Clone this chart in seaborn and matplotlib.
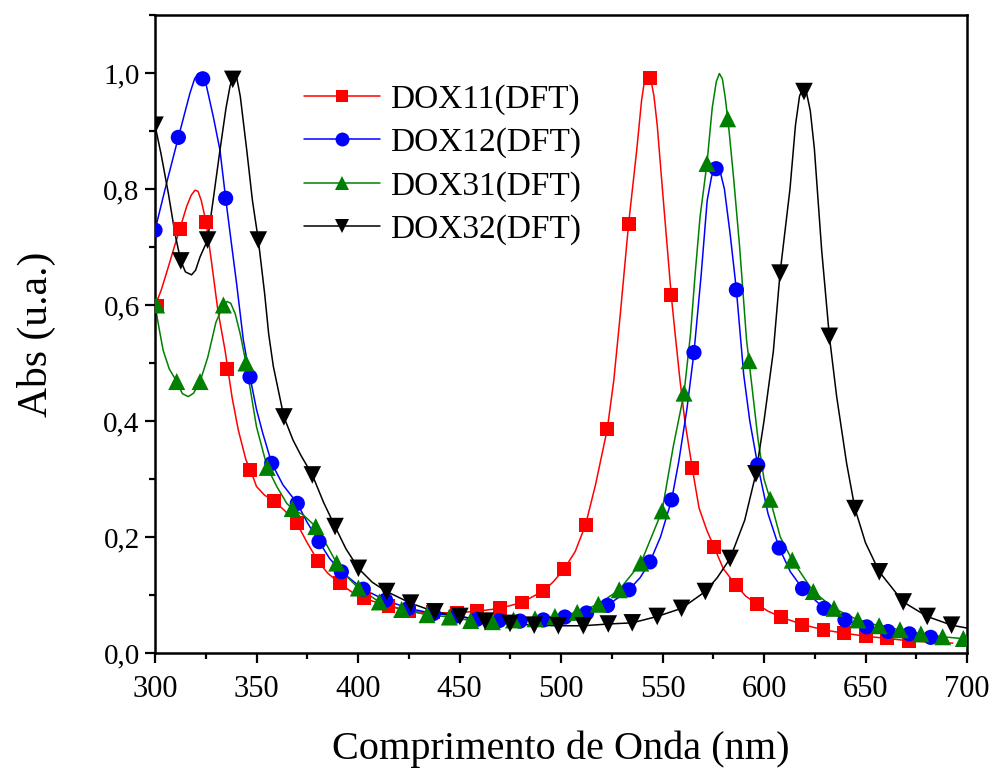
import matplotlib
matplotlib.use("Agg")
import matplotlib.pyplot as plt
from matplotlib.lines import Line2D
from matplotlib.ticker import MultipleLocator, FuncFormatter
import seaborn as sns
import pandas as pd

# ---------------- data ----------------
series_names = ["DOX11(DFT)", "DOX12(DFT)", "DOX31(DFT)", "DOX32(DFT)"]
series_colors = ["#FF0000", "#0000FF", "#008000", "#000000"]
series_markers = ["s", "o", "^", "v"]

# marker points
dox11_x = [301, 312.3, 325, 335.5, 347, 358.8, 369.8, 380.4, 391, 403, 415, 425.3, 437,
           448.6, 458.8, 470, 480.6, 491.3, 501.6, 512.1, 522.8, 533.3, 543.8, 554.3,
           564.6, 575.5, 586, 596.7, 608.4, 618.9, 629.3, 639.6, 650.1, 660.8, 671.4]
dox11_y = [0.598, 0.731, 0.743, 0.49, 0.316, 0.262, 0.224, 0.158, 0.12, 0.094, 0.081,
           0.072, 0.070, 0.0695, 0.072, 0.077, 0.087, 0.107, 0.145, 0.221, 0.386, 0.740,
           0.991, 0.617, 0.319, 0.182, 0.118, 0.084, 0.062, 0.049, 0.040, 0.034, 0.029,
           0.025, 0.021]

dox12_x = [300, 311.5, 323.5, 334.8, 346.8, 357.5, 370.1, 380.8, 391.8, 402.6, 413.6,
           424.8, 437.1, 448.6, 458.5, 469.6, 479.8, 491.3, 501.9, 512.6, 522.9, 533.5,
           543.8, 554.5, 565.5, 576.4, 586.4, 596.9, 607.5, 619, 629.6, 639.9, 650.6,
           661.1, 671.6, 682.1]
dox12_y = [0.729, 0.889, 0.99, 0.784, 0.476, 0.327, 0.258, 0.192, 0.140, 0.110, 0.091,
           0.077, 0.068, 0.064, 0.058, 0.056, 0.055, 0.057, 0.062, 0.069, 0.082, 0.109,
           0.157, 0.264, 0.518, 0.835, 0.626, 0.324, 0.181, 0.111, 0.077, 0.057, 0.045,
           0.037, 0.033, 0.027]

dox31_x = [300.8, 310.7, 322.2, 333.7, 344.8, 355.3, 367.6, 379.2, 389.5, 400.2, 410.5,
           421.5, 434, 445, 455.5, 466.2, 476.6, 487.2, 497, 508, 518.4, 528.7, 539.3,
           549.8, 560.6, 571.9, 582.1, 592.6, 603, 613.9, 624.3, 634.5, 646.2, 656.7,
           667, 677.3, 688, 698.2]
dox31_y = [0.60, 0.468, 0.468, 0.60, 0.50, 0.320, 0.249, 0.218, 0.155, 0.112, 0.088,
           0.075, 0.066, 0.062, 0.056, 0.054, 0.057, 0.059, 0.063, 0.070, 0.084, 0.109,
           0.155, 0.245, 0.448, 0.844, 0.921, 0.504, 0.265, 0.160, 0.106, 0.077, 0.057,
           0.047, 0.040, 0.033, 0.028, 0.025]

dox32_x = [300, 312.7, 325.9, 338.3, 350.9, 363.5, 377.5, 388.7, 400.2, 414.1, 425.9,
           437.9, 450.2, 462.6, 474.9, 486.8, 498.7, 511, 523.3, 535.1, 547.4, 559.4,
           571.1, 583.3, 596, 607.9, 619.7, 632.2, 644.8, 656.8, 668.6, 680.4, 692.4]
dox32_y = [0.91, 0.676, 0.712, 0.989, 0.712, 0.407, 0.307, 0.218, 0.146, 0.106, 0.086,
           0.071, 0.063, 0.055, 0.051, 0.048, 0.047, 0.047, 0.050, 0.052, 0.063, 0.077,
           0.106, 0.163, 0.309, 0.655, 0.968, 0.546, 0.249, 0.140, 0.088, 0.063, 0.048]

# smooth curve points
dox11_line_x = [300, 303, 306.6, 309.5, 312.3, 315.6, 317.8, 319.7, 321.2, 322.8, 325.1,
                328, 331, 334.5, 338, 341, 344.8, 347, 350, 354, 358.8, 364, 369.8, 375,
                380.4, 385, 391, 397, 403, 415, 425.3, 437, 448.6, 458.8, 470, 480.6,
                491.3, 496, 501.6, 507, 512.1, 517, 522.8, 526, 529.1, 533.3, 537.3,
                539.7, 541.2, 542.6, 544.2, 545.8, 547.4, 550.4, 554.3, 556.2, 558.6,
                561, 564.6, 568, 571.8, 575.5, 580, 586, 591, 596.7, 602, 608.4, 618.9,
                629.3, 639.6, 650.1, 660.8, 671.4, 681, 693]
dox11_line_y = [0.598, 0.625, 0.666, 0.70, 0.732, 0.77, 0.789, 0.798, 0.796, 0.78, 0.744,
                0.67, 0.59, 0.522, 0.44, 0.385, 0.333, 0.316, 0.287, 0.272, 0.262, 0.245,
                0.224, 0.19, 0.158, 0.138, 0.12, 0.105, 0.094, 0.081, 0.072, 0.069, 0.0695,
                0.072, 0.077, 0.087, 0.107, 0.122, 0.145, 0.175, 0.221, 0.29, 0.386, 0.47,
                0.58, 0.74, 0.867, 0.953, 0.988, 0.999, 0.99, 0.96, 0.91, 0.781, 0.617,
                0.551, 0.471, 0.40, 0.32, 0.25, 0.212, 0.182, 0.145, 0.118, 0.098, 0.084,
                0.072, 0.062, 0.049, 0.040, 0.034, 0.029, 0.025, 0.021, 0.019, 0.017]

dox12_line_x = [300, 305.7, 311.5, 317.2, 319.5, 321.3, 323, 325, 328.7, 332, 334.8, 337.5,
                340.2, 343.5, 346.8, 350, 353, 357.5, 363, 370.1, 375, 380.8, 386, 391.8,
                402.6, 413.6, 424.8, 437.1, 448.6, 458.5, 469.6, 479.8, 491.3, 501.9,
                512.6, 522.9, 533.5, 539, 543.8, 549, 554.5, 558, 562, 565.5, 569, 572,
                574.2, 576.4, 578.2, 580.5, 583.3, 586.4, 590, 593, 596.9, 602, 607.5,
                613, 619, 629.6, 639.9, 650.6, 661.1, 671.6, 684]
dox12_line_y = [0.729, 0.81, 0.889, 0.965, 0.99, 0.999, 0.997, 0.983, 0.925, 0.867, 0.784,
                0.71, 0.637, 0.54, 0.476, 0.42, 0.38, 0.327, 0.29, 0.258, 0.225, 0.192,
                0.163, 0.140, 0.110, 0.091, 0.077, 0.068, 0.064, 0.058, 0.056, 0.055,
                0.057, 0.062, 0.069, 0.082, 0.109, 0.13, 0.157, 0.20, 0.264, 0.33, 0.42,
                0.518, 0.65, 0.78, 0.822, 0.837, 0.833, 0.80, 0.723, 0.626, 0.48, 0.40,
                0.324, 0.24, 0.181, 0.14, 0.111, 0.077, 0.057, 0.045, 0.037, 0.033, 0.027]

dox31_line_x = [300, 302, 304, 307, 310.7, 313.5, 316.4, 319, 322.2, 326, 330, 333.7, 335.5,
                337.3, 339.5, 342, 344.8, 350, 355.3, 360, 364.9, 367.6, 373, 379.2, 384,
                389.5, 395, 400.2, 410.5, 421.5, 434, 445, 455.5, 466.2, 476.6, 487.2, 497,
                508, 518.4, 528.7, 539.3, 549.8, 555.3, 560.6, 563.8, 566, 568.5, 571.9,
                574.5, 576.5, 578, 579.5, 581, 582.8, 585, 588, 591.4, 592.6, 597, 600,
                603, 608, 613.9, 624.3, 634.5, 646.2, 656.7, 667, 677.3, 688, 700]
dox31_line_y = [0.60, 0.56, 0.522, 0.49, 0.468, 0.447, 0.442, 0.448, 0.468, 0.51, 0.57,
                0.60, 0.606, 0.603, 0.585, 0.55, 0.50, 0.39, 0.320, 0.287, 0.258, 0.249,
                0.238, 0.218, 0.19, 0.155, 0.13, 0.112, 0.088, 0.075, 0.066, 0.062, 0.056,
                0.054, 0.057, 0.059, 0.063, 0.070, 0.084, 0.109, 0.155, 0.245, 0.356,
                0.448, 0.55, 0.65, 0.752, 0.844, 0.94, 0.985, 0.999, 0.99, 0.955, 0.90,
                0.82, 0.70, 0.54, 0.504, 0.37, 0.30, 0.265, 0.20, 0.160, 0.106, 0.077,
                0.057, 0.047, 0.040, 0.033, 0.028, 0.024]

dox32_line_x = [300, 303, 306.6, 310, 312.7, 315, 318, 320, 322.2, 325.9, 329, 332, 335,
                337, 338.6, 340.2, 342, 345.2, 348, 350.9, 354, 356, 358.3, 363.5, 368,
                372, 377.5, 383, 388.7, 394, 400.2, 407, 414.1, 425.9, 437.9, 450.2,
                462.6, 474.9, 486.8, 498.7, 511, 523.3, 535.1, 547.4, 559.4, 571.1, 577,
                583.3, 590.5, 596, 600, 604.6, 607.9, 612.8, 615.5, 617.5, 619.2, 621,
                622.8, 624.8, 628.4, 632.2, 635.8, 640.7, 644.8, 650, 656.8, 668.6,
                680.4, 692.4, 700]
dox32_line_y = [0.91, 0.86, 0.792, 0.72, 0.676, 0.657, 0.652, 0.66, 0.683, 0.712, 0.79,
                0.867, 0.94, 0.978, 0.994, 0.993, 0.96, 0.867, 0.78, 0.712, 0.62, 0.55,
                0.494, 0.407, 0.367, 0.34, 0.307, 0.26, 0.218, 0.18, 0.146, 0.122, 0.106,
                0.086, 0.071, 0.063, 0.055, 0.051, 0.048, 0.047, 0.047, 0.050, 0.052,
                0.063, 0.077, 0.106, 0.13, 0.163, 0.229, 0.309, 0.40, 0.52, 0.655, 0.80,
                0.91, 0.96, 0.975, 0.965, 0.935, 0.87, 0.695, 0.546, 0.442, 0.327, 0.249,
                0.19, 0.140, 0.088, 0.063, 0.048, 0.043]

x_ticks = [300, 350, 400, 450, 500, 550, 600, 650, 700]
y_ticks = [0.0, 0.2, 0.4, 0.6, 0.8, 1.0]

# ---------------- build tables ----------------
marker_sets = [(dox11_x, dox11_y), (dox12_x, dox12_y), (dox31_x, dox31_y), (dox32_x, dox32_y)]
line_sets = [(dox11_line_x, dox11_line_y), (dox12_line_x, dox12_line_y),
             (dox31_line_x, dox31_line_y), (dox32_line_x, dox32_line_y)]

mk_df = pd.concat([pd.DataFrame({"x": xs, "y": ys, "serie": n})
                   for (xs, ys), n in zip(marker_sets, series_names)], ignore_index=True)
ln_df = pd.concat([pd.DataFrame({"x": xs, "y": ys, "serie": n})
                   for (xs, ys), n in zip(line_sets, series_names)], ignore_index=True)

# ---------------- style ----------------
sns.set_theme(style="ticks")
serif = ["Liberation Serif", "DejaVu Serif"]
plt.rcParams["font.family"] = serif
plt.rcParams["text.color"] = "black"
plt.rcParams["axes.labelcolor"] = "black"
plt.rcParams["xtick.color"] = "black"
plt.rcParams["ytick.color"] = "black"

fig = plt.figure(figsize=(9.92, 7.69), dpi=100)
ax = fig.add_axes([155 / 992, 1 - 653 / 769, (967 - 155) / 992, (653 - 15) / 769])

palette = dict(zip(series_names, series_colors))
sns.lineplot(data=ln_df, x="x", y="y", hue="serie", palette=palette, estimator=None,
             sort=False, units="serie", linewidth=1.1, legend=False, ax=ax)

sizes = {"s": 100, "o": 120, "^": 150, "v": 160}
for name, col, mk in zip(series_names, series_colors, series_markers):
    sub = mk_df[mk_df["serie"] == name]
    sns.scatterplot(data=sub, x="x", y="y", color=col, marker=mk, s=sizes[mk],
                    edgecolor="none", linewidth=0, legend=False, ax=ax, zorder=3)

ax.set_xlim(300, 700)
ax.set_ylim(0, 1.1)
ax.set_xticks(x_ticks)
ax.set_yticks(y_ticks)
ax.xaxis.set_minor_locator(MultipleLocator(25))
ax.yaxis.set_minor_locator(MultipleLocator(0.1))
ax.yaxis.set_major_formatter(FuncFormatter(lambda v, p: f"{v:.1f}".replace(".", ",")))
ax.xaxis.set_major_formatter(FuncFormatter(lambda v, p: f"{v:.0f}"))

for s in ax.spines.values():
    s.set_linewidth(1.8)
    s.set_color("black")
ax.tick_params(which="major", direction="out", length=7, width=1.6, labelsize=21,
               colors="black", pad=4)
ax.tick_params(which="minor", direction="out", length=4, width=1.6, colors="black")
ax.tick_params(axis="x", which="major", labelsize=22, pad=9)
ax.tick_params(top=False, right=False, which="both")

ax.set_xlabel("Comprimento de Onda (nm)", fontsize=29, labelpad=19, color="black")
ax.set_ylabel("Abs (u.a.)", fontsize=30, labelpad=34, color="black")

handles = [Line2D([0], [0], color=c, marker=m, markersize=10 if m != "s" else 9,
                  linewidth=1.1, markeredgewidth=0)
           for c, m in zip(series_colors, series_markers)]
leg = ax.legend(handles, series_names, loc="upper left", bbox_to_anchor=(0.183, 0.892),
                frameon=False, fontsize=24, handlelength=2.3, handletextpad=0.3,
                labelspacing=0.38, borderpad=0, borderaxespad=0)
for t in leg.get_texts():
    t.set_color("black")

fig.savefig("out.png", dpi=100)
